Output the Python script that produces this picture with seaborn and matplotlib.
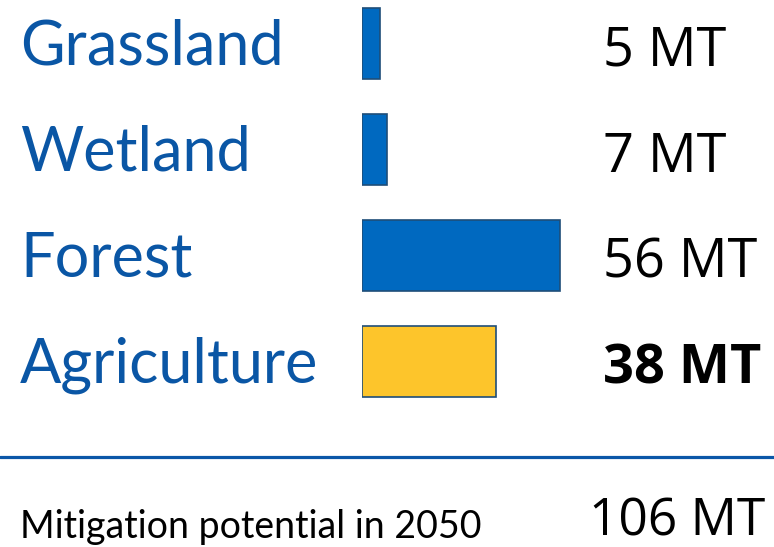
import matplotlib
matplotlib.use("Agg")
import matplotlib.pyplot as plt
import matplotlib.transforms as mtransforms
from matplotlib.lines import Line2D
import pandas as pd
import seaborn as sns

# Land-use categories and their 2050 mitigation potential (MT)
categories = ["Grassland", "Wetland", "Forest", "Agriculture"]
values = [5, 7, 56, 38]
bar_colors = ["#0069C0", "#0069C0", "#0069C0", "#FDC52B"]
bold_value = "Agriculture"
footer_label = "Mitigation potential in 2050"

df = pd.DataFrame({"category": categories, "value": values})
total = sum(values)

sns.set_theme(style="white")
plt.rcParams["font.family"] = ["Open Sans", "DejaVu Sans"]

W, H = 774, 547
fig = plt.figure(figsize=(W / 100, H / 100), dpi=100)
fig.patch.set_facecolor("white")

# Bar area: bars start at x=362px, 106px between category centres
px_per_unit_x = 198 / 56
ax_left, ax_right = 362, 774
ax_top, ax_bottom = 0, 410
ax = fig.add_axes([ax_left / W, 1 - ax_bottom / H,
                   (ax_right - ax_left) / W, (ax_bottom - ax_top) / H])

sns.barplot(data=df, x="value", y="category", hue="category",
            palette=bar_colors, saturation=1, legend=False, width=0.67,
            orient="h", edgecolor="#1F4E79", linewidth=1.2, ax=ax)

ax.set_xlim(0, (ax_right - ax_left) / px_per_unit_x)
row_px = 106
first_centre = 43.5
ax.set_ylim((ax_bottom - first_centre) / row_px, (ax_top - first_centre) / row_px)
ax.set_axis_off()

trans = mtransforms.blended_transform_factory(fig.transFigure, ax.transData)
text_blue = "#0A56A5"
for i, (cat, val) in enumerate(zip(categories, values)):
    ax.text(20 / W, i + 0.2, cat, transform=trans, ha="left", va="baseline",
            fontsize=44, color=text_blue,
            family=["Lato", "DejaVu Sans"])
    ax.text(603 / W, i + 0.21, f"{val} MT", transform=trans, ha="left",
            va="baseline", fontsize=39, color="black",
            fontweight="bold" if cat == bold_value else "normal")

# Separator rule above the total
fig.add_artist(Line2D([0, 1], [1 - 457 / H, 1 - 457 / H],
                      transform=fig.transFigure, color="#0B57A8", linewidth=2.3))

fig.text(20 / W, 1 - 538 / H, footer_label, ha="left", va="baseline",
         fontsize=27, color="black", family=["Lato", "DejaVu Sans"])
fig.text(589 / W, 1 - 535 / H, f"{total} MT", ha="left", va="baseline",
         fontsize=37, color="black")

fig.savefig("out.png", dpi=100, facecolor="white")
